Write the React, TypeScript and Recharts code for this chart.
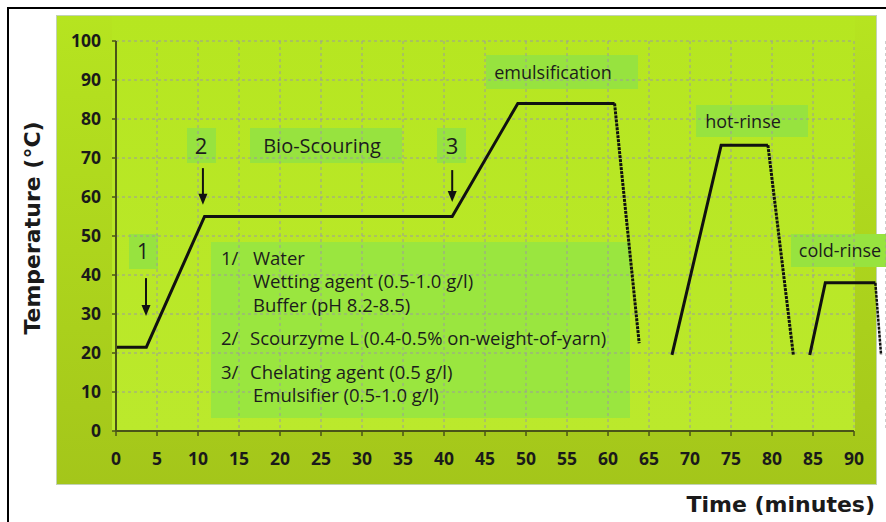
import React from 'react';
import { LineChart, Line, XAxis, YAxis, CartesianGrid, ReferenceLine, ReferenceDot } from 'recharts';

// ---- data ----
const xTicks = [0, 5, 10, 15, 20, 25, 30, 35, 40, 45, 50, 55, 60, 65, 70, 75, 80, 85, 90];
const yTicks = [0, 10, 20, 30, 40, 50, 60, 70, 80, 90, 100];
const gridY = [10, 20, 30, 40, 50, 60, 70, 80, 90, 100];

const solidA = [
  { x: 0, y: 21.5 }, { x: 3.7, y: 21.5 }, { x: 10.8, y: 55 }, { x: 41, y: 55 }, { x: 49, y: 84 }, { x: 60.8, y: 84 },
];
const dropA = [{ x: 60.8, y: 84 }, { x: 63.8, y: 22.5 }];
const solidB = [{ x: 67.8, y: 19.5 }, { x: 73.8, y: 73.3 }, { x: 79.5, y: 73.3 }];
const dropB = [{ x: 79.5, y: 73.3 }, { x: 82.6, y: 19.5 }];
const solidC = [{ x: 84.6, y: 19.5 }, { x: 86.5, y: 38 }, { x: 92.6, y: 38 }];
const dropC = [{ x: 92.6, y: 38 }, { x: 93.3, y: 19.5 }];

const arrows = [
  { x: 3.66, top: 39.2, tip: 29.5 },
  { x: 10.6, top: 67.4, tip: 58 },
  { x: 41, top: 66.9, tip: 58.7 },
];

const legendLines = [
  { n: '1/', t: 'Water', y: 265, tx: 253 },
  { n: '', t: 'Wetting agent (0.5-1.0 g/l)', y: 288, tx: 253 },
  { n: '', t: 'Buffer (pH 8.2-8.5)', y: 312, tx: 253 },
  { n: '2/', t: 'Scourzyme L (0.4-0.5% on-weight-of-yarn)', y: 345, tx: 250 },
  { n: '3/', t: 'Chelating agent (0.5 g/l)', y: 379, tx: 250 },
  { n: '', t: 'Emulsifier (0.5-1.0 g/l)', y: 402, tx: 253 },
];

const labels = [
  { t: '1', x: 143, y: 259, size: 21, box: [129, 234, 29, 35] },
  { t: '2', x: 201, y: 154, size: 22, box: [187, 128, 29, 35] },
  { t: 'Bio-Scouring', x: 322, y: 153, size: 20, box: [250, 128, 152, 35] },
  { t: '3', x: 452, y: 154, size: 22, box: [437, 128, 29, 35] },
  { t: 'emulsification', x: 553, y: 79, size: 18, box: [486, 55, 152, 34] },
  { t: 'hot-rinse', x: 743, y: 128, size: 18, box: [696, 105, 112, 32] },
  { t: 'cold-rinse', x: 840, y: 257, size: 18, box: [791, 234, 95, 33] },
];

const INK = '#111111';
const AXIS = '#4a5418';
const GRID = '#9c9c9c';
const BOX = '#97e33f';

const tickStyle = { fill: '#1a1a1a', fontSize: 17.5, fontWeight: 700, fontFamily: 'Open Sans' };

const head = (p: any) => (
  <path d={`M${p.cx - 4.5},${p.cy - 11} L${p.cx + 4.5},${p.cy - 11} L${p.cx},${p.cy} Z`} fill={INK} />
);

export default function App() {
  return (
    <div style={{ position: 'absolute', left: 0, top: 0, width: 886, height: 522, overflow: 'hidden', background: '#fff' }}>
      {/* frame */}
      <div style={{ position: 'absolute', left: 7, top: 7, width: 900, height: 540, border: '2px solid #000', boxSizing: 'border-box' }} />
      {/* panel */}
      <div style={{ position: 'absolute', left: 56, top: 15, width: 821, height: 470, background: 'linear-gradient(#b6e420, #a4c61a)', border: '1px solid #c2d2b4', boxSizing: 'border-box' }} />
      {/* plot area */}
      <div style={{ position: 'absolute', left: 112, top: 16, width: 743, height: 415, background: 'linear-gradient(#b6e620, #bbe92c)' }} />
      {/* label boxes */}
      <div style={{ position: 'absolute', left: 211, top: 242, width: 419, height: 176, background: '#9ae63f' }} />
      {labels.map((l, i) => (
        <div key={i} style={{ position: 'absolute', left: l.box[0], top: l.box[1], width: l.box[2], height: l.box[3], background: BOX }} />
      ))}
      <div style={{ position: 'absolute', left: 0, top: 0 }}>
        <LineChart width={886} height={522} margin={{ top: 41, right: 0, bottom: 51, left: 0 }}>
          <CartesianGrid horizontal={false} stroke={GRID} strokeDasharray="3 3" />
          {gridY.map((g) => (
            <ReferenceLine key={g} segment={[{ x: 0, y: g }, { x: 90, y: g }]} stroke={GRID} strokeDasharray="3 3" />
          ))}
          <XAxis
            type="number"
            dataKey="x"
            domain={[0, 93.9]}
            ticks={xTicks}
            interval={0}
            axisLine={false}
            tickLine={{ stroke: AXIS, strokeWidth: 1.5 }}
            tickSize={5}
            tickMargin={17}
            height={40}
            tick={tickStyle}
          />
          <YAxis
            type="number"
            domain={[0, 100]}
            ticks={yTicks}
            interval={0}
            width={116}
            axisLine={{ stroke: AXIS, strokeWidth: 2 }}
            tickLine={{ stroke: AXIS, strokeWidth: 1.5 }}
            tickSize={4}
            tickMargin={11}
            tick={tickStyle}
          />
          <ReferenceLine segment={[{ x: 0, y: 0 }, { x: 90, y: 0 }]} stroke={AXIS} strokeWidth={2} />
          {arrows.map((a, i) => (
            <ReferenceLine key={'s' + i} segment={[{ x: a.x, y: a.top }, { x: a.x, y: a.tip + 2 }]} stroke={INK} strokeWidth={2} />
          ))}
          {arrows.map((a, i) => (
            <ReferenceDot key={'h' + i} x={a.x} y={a.tip} r={0} shape={head} />
          ))}
          <Line data={solidA} dataKey="y" stroke={INK} strokeWidth={3} dot={false} activeDot={false} isAnimationActive={false} />
          <Line data={dropA} dataKey="y" stroke={INK} strokeWidth={3} strokeDasharray="3 1" dot={false} activeDot={false} isAnimationActive={false} />
          <Line data={solidB} dataKey="y" stroke={INK} strokeWidth={3} dot={false} activeDot={false} isAnimationActive={false} />
          <Line data={dropB} dataKey="y" stroke={INK} strokeWidth={3} strokeDasharray="3 1" dot={false} activeDot={false} isAnimationActive={false} />
          <Line data={solidC} dataKey="y" stroke={INK} strokeWidth={3} dot={false} activeDot={false} isAnimationActive={false} />
          <Line data={dropC} dataKey="y" stroke={INK} strokeWidth={2.5} strokeDasharray="3 1" dot={false} activeDot={false} isAnimationActive={false} />
        </LineChart>
      </div>
      {/* text overlay */}
      <svg width={886} height={522} style={{ position: 'absolute', left: 0, top: 0, pointerEvents: 'none' }}>
        <g fontFamily="Open Sans" fill="#1c1c1c">
          {labels.map((l, i) => (
            <text key={i} x={l.x} y={l.y} fontSize={l.size} textAnchor="middle">{l.t}</text>
          ))}
          {legendLines.map((l, i) => (
            <g key={i} fontSize={18.5}>
              {l.n ? <text x={221} y={l.y}>{l.n}</text> : null}
              <text x={l.tx} y={l.y}>{l.t}</text>
            </g>
          ))}
        </g>
        <g fontFamily="DejaVu Sans" fontWeight={700} fontSize={22} fill="#1a1a1a">
          <text x={875} y={512} textAnchor="end">Time (minutes)</text>
          <text transform="translate(40,228) rotate(-90)" textAnchor="middle">Temperature (°C)</text>
        </g>
      </svg>
    </div>
  );
}
